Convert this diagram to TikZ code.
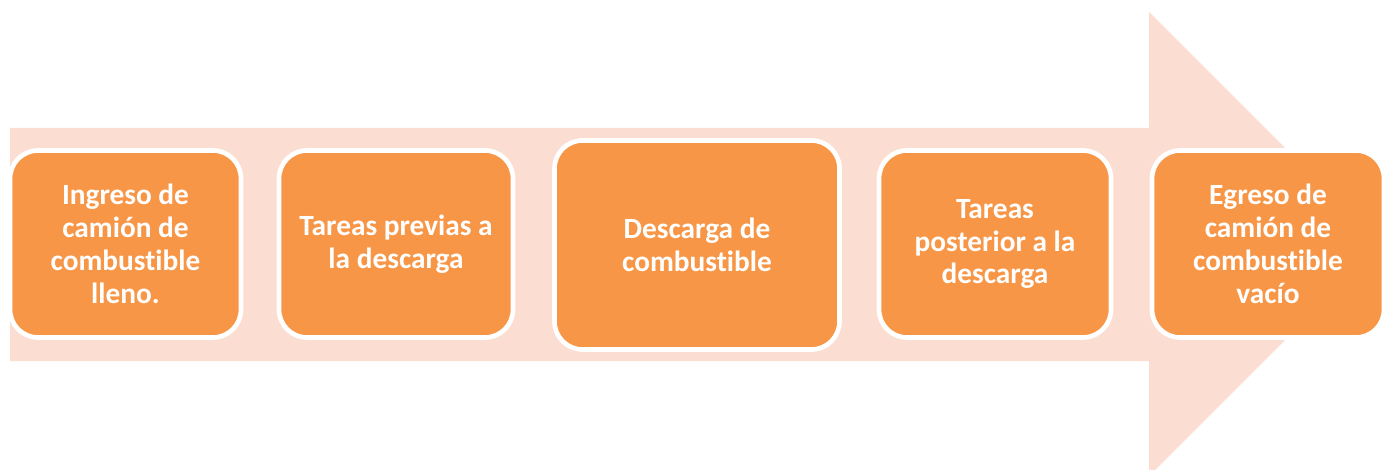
\documentclass[tikz,border=0pt]{standalone}
\usepackage{fontspec}
\setmainfont{Carlito}[Ligatures={NoCommon}]
\definecolor{peach}{HTML}{FCDDD2}
\definecolor{boxorange}{HTML}{F79646}
\begin{document}
\begin{tikzpicture}[x=0.75pt,y=-0.75pt,
  procbox/.style={rectangle, rounded corners=21pt, fill=boxorange, draw=white,
    line width=3.5pt, inner sep=0pt, align=center, text=white,
    font=\fontsize{22}{24.6}\selectfont\bfseries},
]
\useasboundingbox (0,0) rectangle (1391,470);
\begin{scope}
\clip (0,0) rectangle (1391,470);
\fill[peach] (10,128) -- (1149,128) -- (1149,12) -- (1381,244) -- (1149,476)
  -- (1149,361) -- (10,361) -- cycle;
\end{scope}
\node[procbox, minimum width=231pt*0.75, minimum height=187pt*0.75] (b1) at (125.5,244)
  {Ingreso de\\camión de\\combustible\\lleno.};
\node[procbox, minimum width=234pt*0.75, minimum height=187pt*0.75] (b2) at (396,244)
  {Tareas previas a\\la descarga};
\node[procbox, minimum width=285pt*0.75, minimum height=209pt*0.75] (b3) at (697,245)
  {Descarga de\\combustible};
\node[procbox, minimum width=232pt*0.75, minimum height=187pt*0.75] (b4) at (995,244)
  {Tareas\\posterior a la\\descarga};
\node[procbox, minimum width=232pt*0.75, minimum height=187pt*0.75] (b5) at (1268,244)
  {Egreso de\\camión de\\combustible\\vacío};
\end{tikzpicture}
\end{document}
